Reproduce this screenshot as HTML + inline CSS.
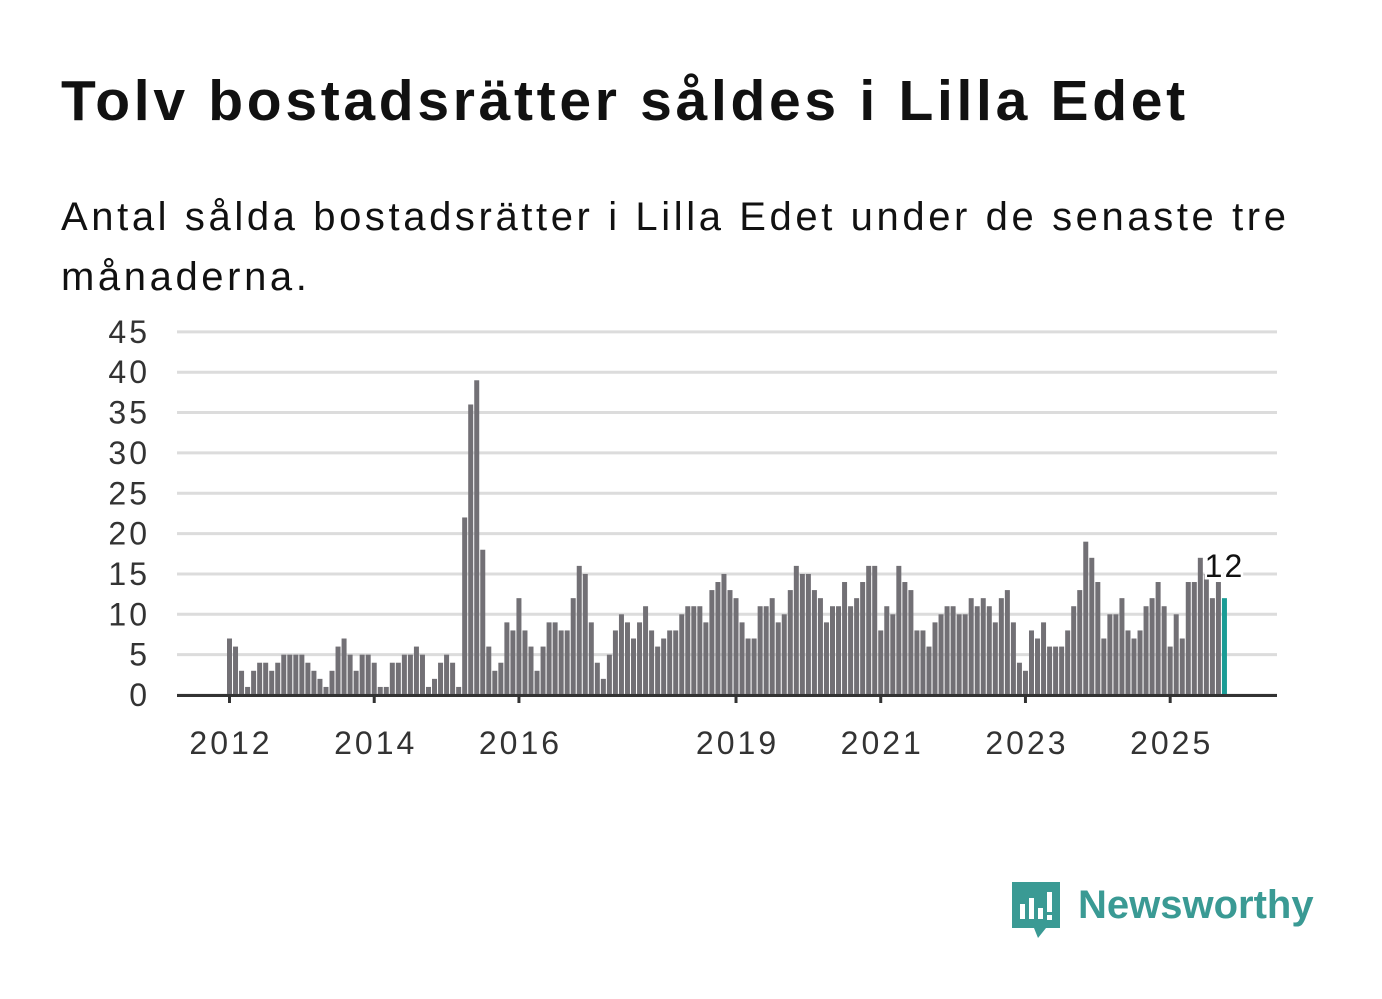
<!DOCTYPE html>
<html><head><meta charset="utf-8"><style>
body{margin:0;width:1382px;height:999px;background:#fff;font-family:"Liberation Sans",sans-serif;overflow:hidden;position:relative}
h1{position:absolute;left:61px;top:68px;margin:0;font-size:57px;font-weight:bold;color:#111;letter-spacing:3.7px}
p{position:absolute;left:61px;top:187px;margin:0;font-size:40px;line-height:60px;color:#111;width:1300px;letter-spacing:3.6px}
svg{position:absolute;left:0;top:0}
</style></head><body>
<h1>Tolv bostadsrätter såldes i Lilla Edet</h1>
<p>Antal sålda bostadsrätter i Lilla Edet under de senaste tre<br>månaderna.</p>
<svg id="chart" width="1382" height="999"></svg>
<svg width="1382" height="999" style="pointer-events:none">
<path d="M1012 882 h48 v46 h-14 l-8 10 l-4 -10 h-22 z" fill="#3a9a94"/>
<rect x="1020" y="904" width="5" height="15" fill="#fff"/><rect x="1029" y="898" width="5" height="21" fill="#fff"/><rect x="1038" y="908" width="5" height="11" fill="#fff"/><rect x="1047" y="892" width="5" height="20" fill="#fff"/><rect x="1047" y="915" width="5" height="5" fill="#fff"/>
<text x="1078" y="918" font-size="40" font-weight="bold" fill="#3a9a94" font-family="Liberation Sans, sans-serif">Newsworthy</text>
</svg>
<script>
const values=[7,6,3,1,3,4,4,3,4,5,5,5,
5,4,3,2,1,3,6,7,5,3,5,5,
4,1,1,4,4,5,5,6,5,1,2,4,
5,4,1,22,36,39,18,6,3,4,9,8,
12,8,6,3,6,9,9,8,8,12,16,15,
9,4,2,5,8,10,9,7,9,11,8,6,
7,8,8,10,11,11,11,9,13,14,15,13,
12,9,7,7,11,11,12,9,10,13,16,15,
15,13,12,9,11,11,14,11,12,14,16,16,
8,11,10,16,14,13,8,8,6,9,10,11,
11,10,10,12,11,12,11,9,12,13,9,4,
3,8,7,9,6,6,6,8,11,13,19,17,
14,7,10,10,12,8,7,8,11,12,14,11,
6,10,7,14,14,17,15,12,14,12];
const yTicks=[0,5,10,15,20,25,30,35,40,45];
const xLabels=["2012","2014","2016","2019","2021","2023","2025"];
const xLabelIdx=[0,24,48,84,108,132,156];
const NS="http://www.w3.org/2000/svg";
const svg=document.getElementById('chart');
const x=i=>227+i*6.03;
const y=v=>695-v*8.07;
function mk(t,a){const e=document.createElementNS(NS,t);for(const k in a)e.setAttribute(k,a[k]);svg.appendChild(e);return e;}
yTicks.forEach(v=>{
 const l=mk('line',{x1:177,x2:1277,y1:y(v),y2:y(v),stroke:'#dcdcdc','stroke-width':3});
 
 
 const t=mk('text',{x:150,y:y(v)+11,'text-anchor':'end','font-size':32,fill:'#333','letter-spacing':3});
 t.textContent=v;
 
 
});
values.forEach((v,i)=>{
 const r=mk('rect',{x:x(i),y:y(v),width:5,height:v*8.07,fill:i===values.length-1?'#1a9c95':'#727075'});
 
 
});
const ax=mk('line',{x1:177,x2:1277,y1:695.5,y2:695.5,stroke:'#333','stroke-width':3});


xLabels.forEach((s,k)=>{
 const cx=x(xLabelIdx[k])+2.5;
 const tk=mk('line',{x1:cx,x2:cx,y1:695,y2:703,stroke:'#333','stroke-width':3});
 
 
 const t=mk('text',{x:cx+1.5,y:754,'text-anchor':'middle','font-size':32,fill:'#333','letter-spacing':3});
 t.textContent=s;
 
 
});
const li=values.length-1;
const lab=mk('text',{x:x(li)+2.5,y:y(values[li])-21,'text-anchor':'middle','font-size':32,fill:'#111',stroke:'#fff','stroke-width':5,'paint-order':'stroke','letter-spacing':2});
lab.textContent=values[li];


</script>
</body></html>
